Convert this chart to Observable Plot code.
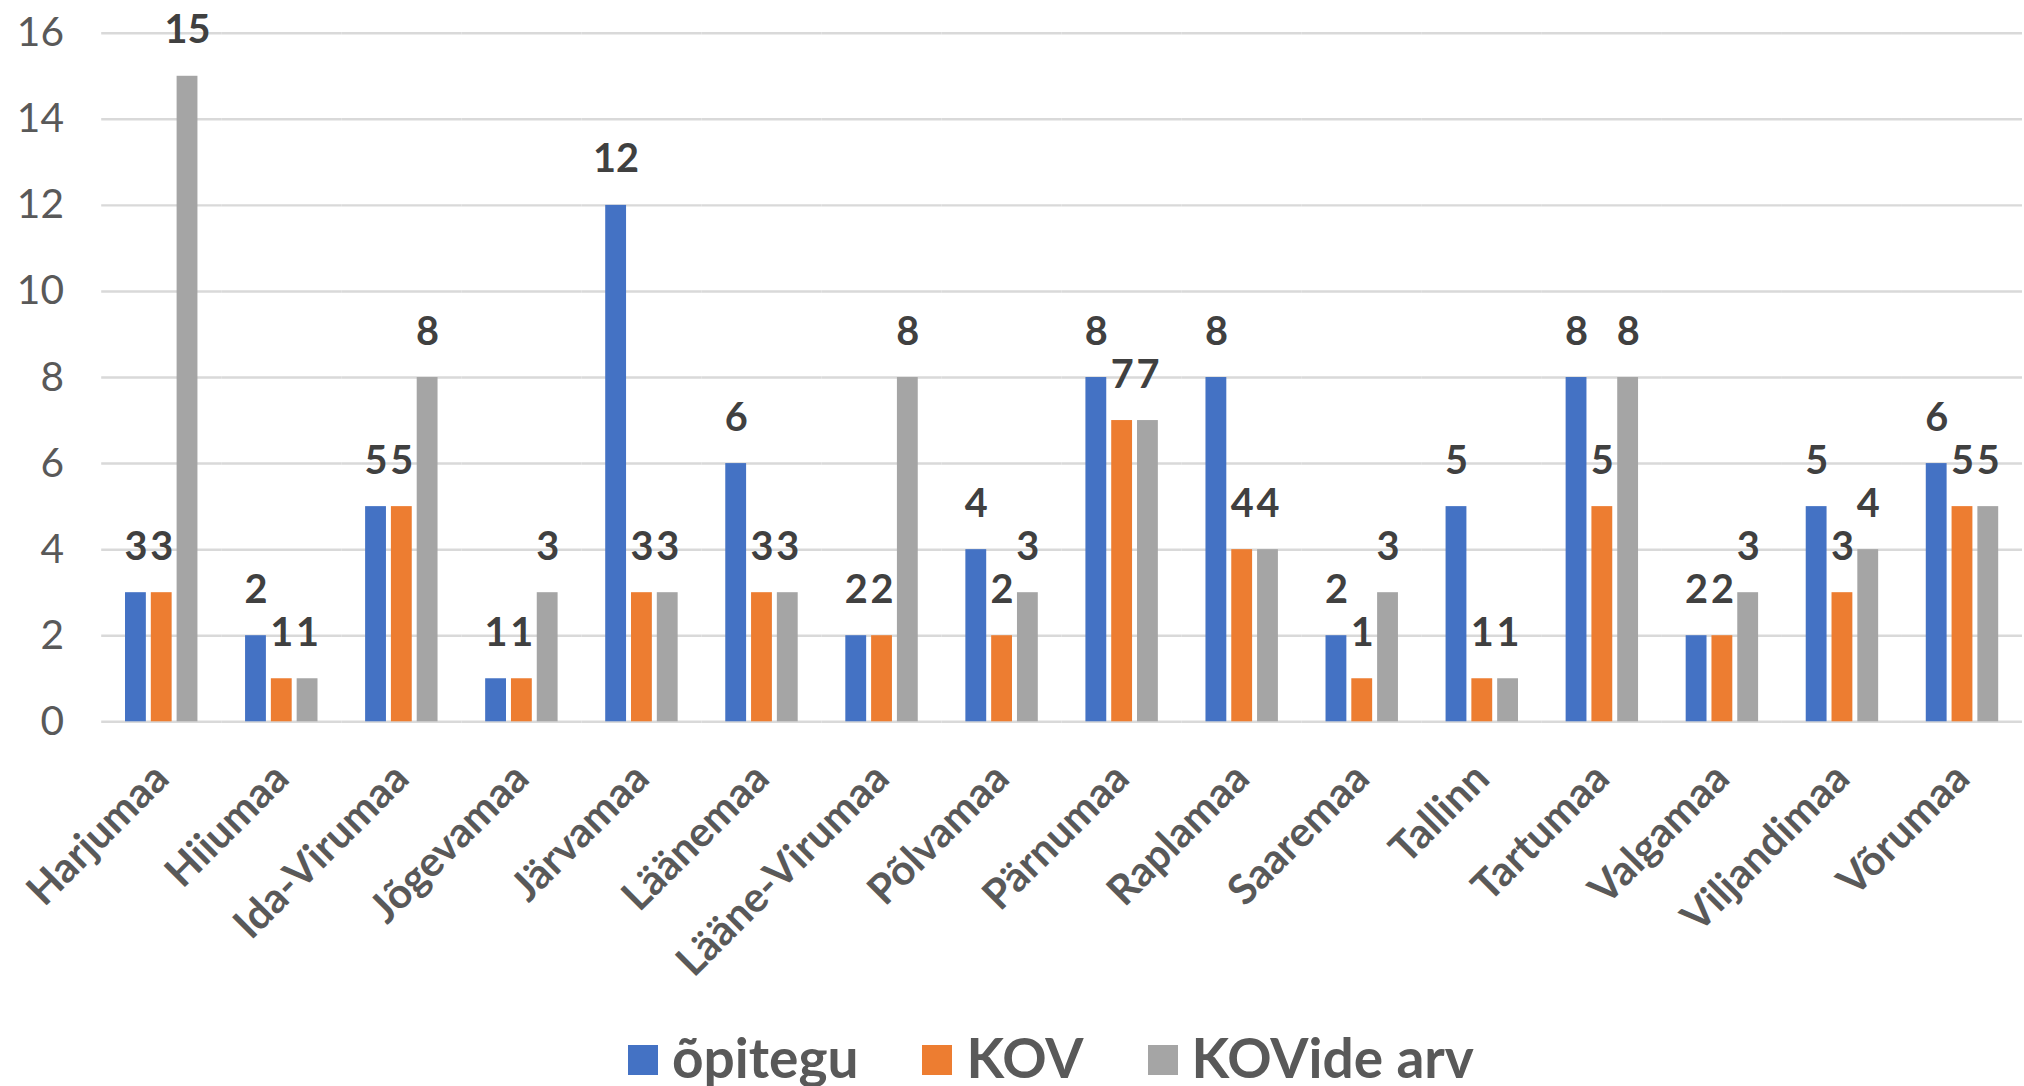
<!DOCTYPE html>
<html>
<head>
<meta charset="utf-8">
<script src="https://cdn.jsdelivr.net/npm/d3@7"></script>
<script src="https://cdn.jsdelivr.net/npm/@observablehq/plot@0.6"></script>
<style>
  html, body { margin: 0; padding: 0; background: #fff; overflow: hidden; width: 2024px; height: 1086px; }
  #chart { position: absolute; left: 0; top: 0; }
  #legend { position: absolute; left: 628px; top: 1030px; height: 54px; display: flex; align-items: center;
            font-family: Lato, "Open Sans", sans-serif; font-weight: bold; font-size: 55px; line-height: 1; color: #595959; }
  #legend .item { display: flex; align-items: center; margin-right: 64px; }
  #legend .sw { width: 30px; height: 30px; margin-right: 14px; margin-top: 6px; }
</style>
</head>
<body>
<div id="chart"></div>
<div id="legend"></div>
<script>
const regions = ["Harjumaa","Hiiumaa","Ida-Virumaa","Jõgevamaa","Järvamaa","Läänemaa","Lääne-Virumaa","Põlvamaa","Pärnumaa","Raplamaa","Saaremaa","Tallinn","Tartumaa","Valgamaa","Viljandimaa","Võrumaa"];
const seriesNames = ["õpitegu","KOV","KOVide arv"];
const opitegu   = [3, 2, 5, 1, 12, 6, 2, 4, 8, 8, 2, 5, 8, 2, 5, 6];
const kov       = [3, 1, 5, 1, 3, 3, 2, 2, 7, 4, 1, 1, 5, 2, 3, 5];
const kovideArv = [15, 1, 8, 3, 3, 3, 8, 3, 7, 4, 3, 1, 8, 3, 4, 5];
const colors = ["#4472C4", "#ED7D31", "#A5A5A5"];
const yTicks = [0, 2, 4, 6, 8, 10, 12, 14, 16];

const seriesValues = [opitegu, kov, kovideArv];
const data = [];
regions.forEach((r, i) => {
  seriesNames.forEach((s, j) => data.push({region: r, series: s, value: seriesValues[j][i]}));
});

const font = 'Lato, "Open Sans", sans-serif';
const chart = Plot.plot({
  width: 2040,
  height: 990,
  marginLeft: 101,
  marginRight: 2,
  marginTop: 33,
  marginBottom: 263,
  style: {fontFamily: font, background: "#fff"},
  fx: {domain: regions, padding: 0, label: null, axis: null},
  x: {domain: seriesNames, paddingInner: 0.19, paddingOuter: 0.92, axis: null},
  y: {domain: [0, 16], label: null},
  color: {domain: seriesNames, range: colors},
  marks: [
    Plot.ruleY(yTicks, {stroke: "#d9d9d9", strokeWidth: 2.5}),
    Plot.barY(data, {fx: "region", x: "series", y: "value", fill: "series"}),
    Plot.text(data, {fx: "region", x: "series", y: "value", text: d => String(d.value),
      dy: -46, fontSize: 40, fontWeight: "bold", fill: "#404040"}),
    Plot.axisY({ticks: yTicks, tickSize: 0, tickPadding: 38, fontSize: 41, fill: "#595959", label: null}),
    Plot.axisFx({anchor: "bottom", tickRotate: -45, tickSize: 0, tickPadding: 50, fontSize: 42, fontWeight: "bold", fill: "#595959", label: null})
  ]
});
document.getElementById("chart").appendChild(chart);

const legend = d3.select("#legend");
seriesNames.forEach((s, i) => {
  const item = legend.append("div").attr("class", "item");
  item.append("div").attr("class", "sw").style("background", colors[i]);
  item.append("span").text(s);
});
</script>
</body>
</html>
